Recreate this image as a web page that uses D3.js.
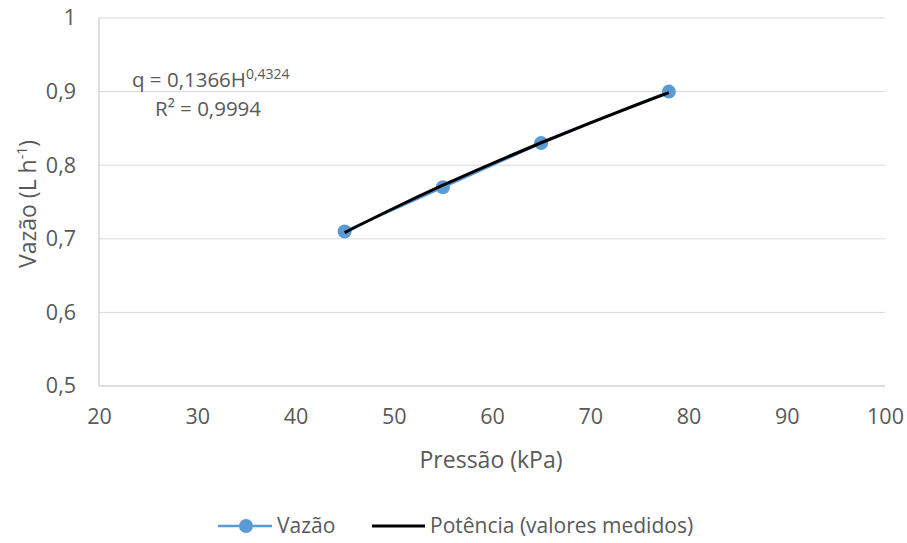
<!DOCTYPE html>
<html><head><meta charset="utf-8">
<script src="https://cdn.jsdelivr.net/npm/d3@7"></script>
<style>body{margin:0;background:#fff}svg{display:block;font-family:"Open Sans",sans-serif}</style>
</head><body><svg id="c" width="907" height="543"></svg>
<script>
const pressao = [45, 55, 65, 78];
const vazao = [0.71, 0.77, 0.83, 0.90];
const trendX = [45, 50, 55, 60, 65, 70, 75, 78];
const trendY = [0.7084, 0.7415, 0.7728, 0.8023, 0.8305, 0.8576, 0.8835, 0.8987];
const xTicks = [20, 30, 40, 50, 60, 70, 80, 90, 100];
const yTicks = [0.5, 0.6, 0.7, 0.8, 0.9, 1];
const seriesNames = ["Vazão", "Potência (valores medidos)"];

const svg = d3.select("#c");
const L = 99, R = 885, T = 18, B = 386;
const x = d3.scaleLinear().domain([20, 100]).range([L, R]);
const y = d3.scaleLinear().domain([0.5, 1]).range([B, T]);
const fmt = d => String(d).replace(".", ",");
const txt = "#595959";

// gridlines
svg.append("g").selectAll("line").data(yTicks.filter(d => d > 0.5)).join("line")
  .attr("x1", L).attr("x2", R).attr("y1", d => y(d)).attr("y2", d => y(d))
  .attr("stroke", "#d9d9d9").attr("stroke-width", 1);
// axes lines
svg.append("line").attr("x1", L).attr("x2", L).attr("y1", T).attr("y2", B).attr("stroke", "#bfbfbf");
svg.append("line").attr("x1", L).attr("x2", R).attr("y1", B).attr("y2", B).attr("stroke", "#bfbfbf");

// tick labels
const xAxis = d3.axisBottom(x).tickValues(xTicks).tickSize(0).tickPadding(23).tickFormat(fmt);
const gx = svg.append("g").attr("transform", `translate(0,${B})`).call(xAxis);
gx.select(".domain").remove();
gx.selectAll("text").attr("fill", txt).attr("font-size", 21.5).attr("font-family", "Open Sans");
const yAxis = d3.axisLeft(y).tickValues(yTicks).tickSize(0).tickPadding(23).tickFormat(fmt);
const gy = svg.append("g").attr("transform", `translate(${L},0)`).call(yAxis);
gy.select(".domain").remove();
gy.selectAll("text").attr("fill", txt).attr("font-size", 21.5).attr("font-family", "Open Sans");

// axis titles
svg.append("text").attr("x", 491).attr("y", 468).attr("text-anchor", "middle")
  .attr("fill", txt).attr("font-size", 23).text("Pressão (kPa)");
const yt = svg.append("text").attr("transform", `translate(36,204) rotate(-90)`)
  .attr("text-anchor", "middle").attr("fill", txt).attr("font-size", 23);
yt.append("tspan").text("Vazão (L h");
yt.append("tspan").attr("dy", -9).attr("font-size", 14).text("-1");
yt.append("tspan").attr("dy", 9).text(")");

// series line
const blue = "#5b9bd5";
svg.append("path").datum(pressao.map((p, i) => [p, vazao[i]]))
  .attr("d", d3.line().x(d => x(d[0])).y(d => y(d[1])))
  .attr("fill", "none").attr("stroke", blue).attr("stroke-width", 2.5);
svg.append("g").selectAll("circle").data(pressao.map((p, i) => [p, vazao[i]])).join("circle")
  .attr("cx", d => x(d[0])).attr("cy", d => y(d[1])).attr("r", 7).attr("fill", blue);
// trend line
svg.append("path").datum(trendX.map((p, i) => [p, trendY[i]]))
  .attr("d", d3.line().curve(d3.curveMonotoneX).x(d => x(d[0])).y(d => y(d[1])))
  .attr("fill", "none").attr("stroke", "#000").attr("stroke-width", 3);

// annotation
const a1 = svg.append("text").attr("x", 132).attr("y", 87).attr("fill", txt).attr("font-size", 20.5);
a1.append("tspan").text("q = 0,1366H");
a1.append("tspan").attr("dy", -8).attr("font-size", 14).text("0,4324");
svg.append("text").attr("x", 155).attr("y", 116).attr("fill", txt).attr("font-size", 20.5).text("R² = 0,9994");

// legend
const ly = 526;
svg.append("line").attr("x1", 218).attr("x2", 272).attr("y1", ly).attr("y2", ly).attr("stroke", blue).attr("stroke-width", 2.5);
svg.append("circle").attr("cx", 246).attr("cy", ly).attr("r", 7).attr("fill", blue);
svg.append("text").attr("x", 277).attr("y", ly + 7).attr("fill", txt).attr("font-size", 21).text(seriesNames[0]);
svg.append("line").attr("x1", 372).attr("x2", 425).attr("y1", ly).attr("y2", ly).attr("stroke", "#000").attr("stroke-width", 3);
svg.append("text").attr("x", 430).attr("y", ly + 7).attr("fill", txt).attr("font-size", 21).text(seriesNames[1]);
</script></body></html>
